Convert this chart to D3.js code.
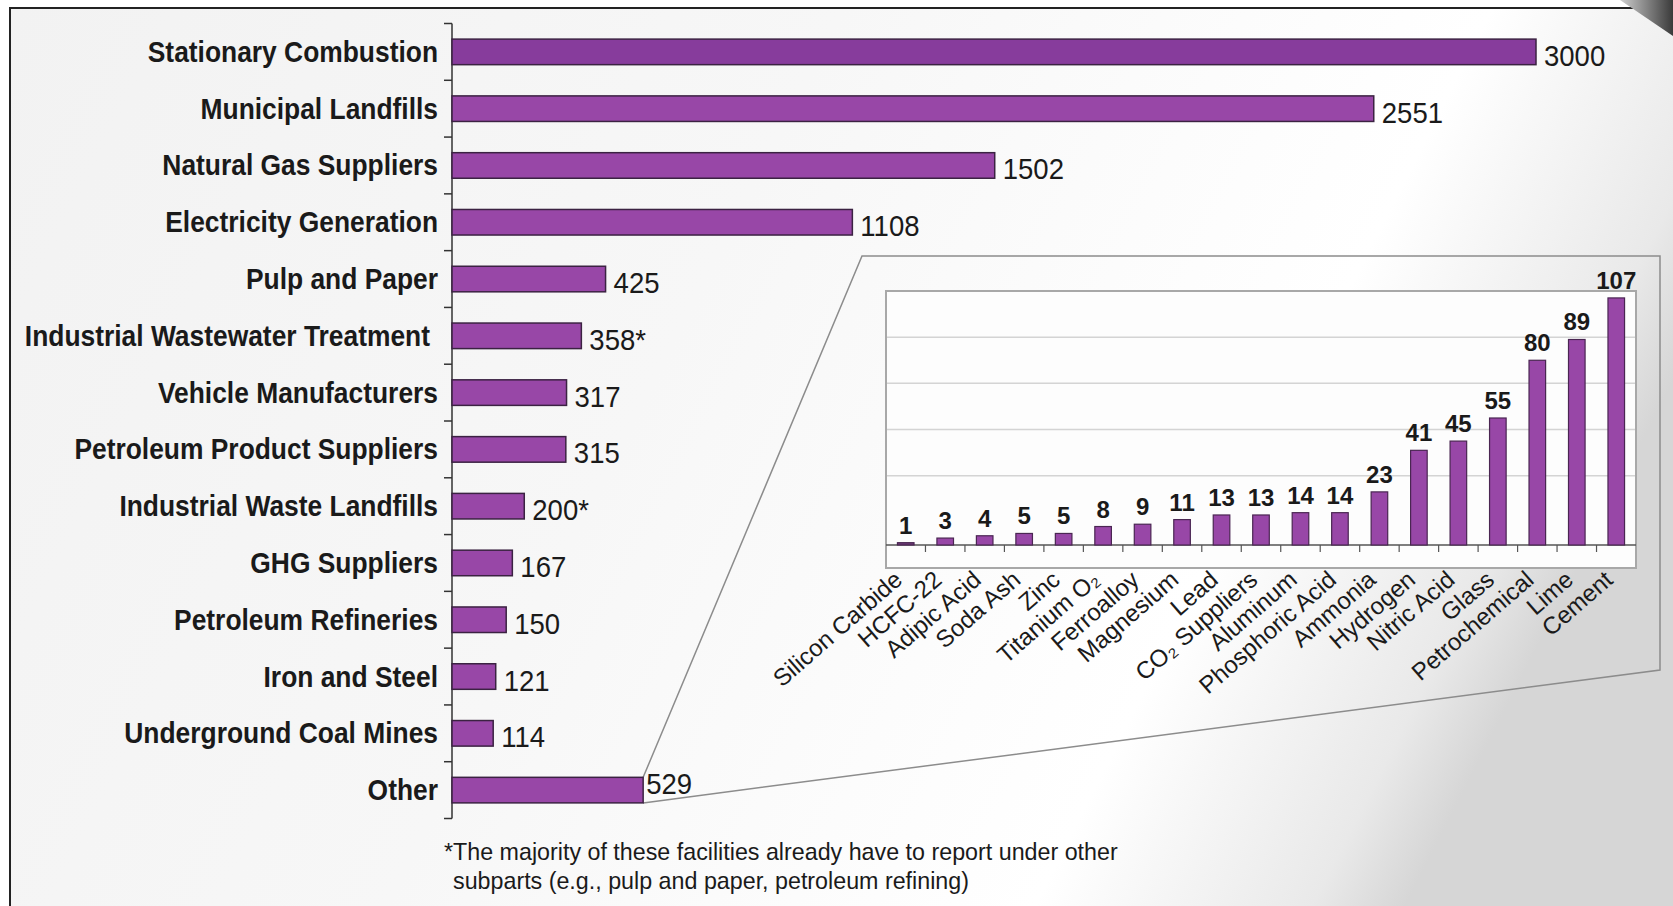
<!DOCTYPE html>
<html>
<head>
<meta charset="utf-8">
<script src="https://cdn.jsdelivr.net/npm/d3@7"></script>
<style>
    body { margin: 0; background: #fff; }
    text { font-family: "Liberation Sans", Arial, sans-serif; fill: #1a1a1a; }
</style>
</head>
<body>
<svg id="chart"></svg>
<script>
// main chart: facilities per source category
let categories = ['Stationary Combustion', 'Municipal Landfills', 'Natural Gas Suppliers', 'Electricity Generation',
    'Pulp and Paper', 'Industrial Wastewater Treatment', 'Vehicle Manufacturers', 'Petroleum Product Suppliers',
    'Industrial Waste Landfills', 'GHG Suppliers', 'Petroleum Refineries', 'Iron and Steel',
    'Underground Coal Mines', 'Other'];
let values = [3000, 2551, 1502, 1108, 425, 358, 317, 315, 200, 167, 150, 121, 114, 529];
let valueNotes = ['', '', '', '', '', '*', '', '', '*', '', '', '', '', ''];

// inset: breakdown of "Other"
let insetCategories = ['Silicon Carbide', 'HCFC-22', 'Adipic Acid', 'Soda Ash', 'Zinc', 'Titanium O\u2082',
    'Ferroalloy', 'Magnesium', 'Lead', 'CO\u2082 Suppliers', 'Aluminum', 'Phosphoric Acid', 'Ammonia',
    'Hydrogen', 'Nitric Acid', 'Glass', 'Petrochemical', 'Lime', 'Cement'];
let insetValues = [1, 3, 4, 5, 5, 8, 9, 11, 13, 13, 14, 14, 23, 41, 45, 55, 80, 89, 107];
let insetGrid = [30, 50, 70, 90];

let footnote = ['*The majority of these facilities already have to report under other',
    'subparts (e.g., pulp and paper, petroleum refining)'];

let width = 1673, height = 906;
let svg = d3.select('#chart').attr('width', width).attr('height', height);

// no narrow font installed, so squeeze the text horizontally
function squeeze(x, y, k) {
    return 'translate(' + x + ',' + y + ') scale(' + (k || 0.9) + ',1)';
}

let defs = svg.append('defs');
let bg = defs.append('linearGradient').attr('id', 'bg').attr('x1', 0).attr('y1', 0).attr('x2', 1).attr('y2', 0.3);
bg.append('stop').attr('offset', 0).attr('stop-color', '#f2f2f2');
bg.append('stop').attr('offset', 0.45).attr('stop-color', '#f7f7f7');
bg.append('stop').attr('offset', 0.8).attr('stop-color', '#ffffff');
bg.append('stop').attr('offset', 0.95).attr('stop-color', '#e9e9e9');
bg.append('stop').attr('offset', 1).attr('stop-color', '#d6d6d6');

let corner = defs.append('linearGradient').attr('id', 'corner').attr('x1', 0).attr('y1', 0).attr('x2', 1).attr('y2', 0);
corner.append('stop').attr('offset', 0).attr('stop-color', '#cfcfcf');
corner.append('stop').attr('offset', 1).attr('stop-color', '#3a3a3a');

// page frame
svg.append('rect')
    .attr('x', 10).attr('y', 8)
    .attr('width', 1700).attr('height', 1000)
    .attr('fill', 'url(#bg)')
    .attr('stroke', '#222')
    .attr('stroke-width', 2);
svg.append('path')
    .attr('d', 'M1620,0L1673,0L1673,36Z')
    .attr('fill', 'url(#corner)');

let xScale = d3.scaleLinear().domain([0, 3000]).range([452, 1536]);
let yScale = d3.scaleBand()
    .domain(categories)
    .range([23.5, 818.5])
    .paddingInner(0.55)
    .paddingOuter(0.275);
let bw = yScale.bandwidth();
let step = yScale.step();

// left axis with ticks between categories
let axis = svg.append('g').attr('stroke', '#333').attr('stroke-width', 1.5);
axis.append('line')
    .attr('x1', xScale(0)).attr('x2', xScale(0))
    .attr('y1', 23.5).attr('y2', 818.5);
axis.selectAll('.tick')
    .data(d3.range(categories.length + 1))
    .enter().append('line')
    .attr('x1', xScale(0) - 8).attr('x2', xScale(0))
    .attr('y1', i => 23.5 + i * step)
    .attr('y2', i => 23.5 + i * step);

// callout from the "Other" bar to the inset
let otherY = yScale('Other');
let callout = [
    [xScale(529), otherY],
    [862, 256],
    [1660, 256],
    [1660, 670],
    [xScale(529), otherY + bw]
];
svg.append('path')
    .attr('d', d3.line()(callout))
    .attr('fill', 'none')
    .attr('stroke', '#8c8c8c')
    .attr('stroke-width', 1.5);

svg.selectAll('.bar')
    .data(categories)
    .enter().append('rect')
    .attr('class', 'bar')
    .attr('x', xScale(0))
    .attr('y', d => yScale(d))
    .attr('width', (d, i) => xScale(values[i]) - xScale(0))
    .attr('height', bw)
    .attr('fill', (d, i) => i === 0 ? '#873c9c' : '#9847a7')
    .attr('stroke', '#3b2242')
    .attr('stroke-width', 1.5);

svg.selectAll('.cat')
    .data(categories)
    .enter().append('text')
    .attr('class', 'cat')
    .attr('transform', d => squeeze(d === 'Industrial Wastewater Treatment' ? 430 : 438, yScale(d) + bw / 2 + 10, 0.91))
    .attr('text-anchor', 'end')
    .style('font-size', '29px')
    .style('font-weight', 'bold')
    .text(d => d);

svg.selectAll('.val')
    .data(categories)
    .enter().append('text')
    .attr('class', 'val')
    .attr('transform', (d, i) => squeeze(xScale(values[i]) + (d === 'Other' ? 3 : 8),
        yScale(d) + bw / 2 + (d === 'Other' ? 4 : 14), 0.95))
    .style('font-size', '29px')
    .text((d, i) => values[i] + valueNotes[i]);

// inset chart
let ix = d3.scaleBand()
    .domain(insetCategories)
    .range([886, 1636])
    .paddingInner(0.58)
    .paddingOuter(0.29);
let iy = d3.scaleLinear().domain([0, 110]).range([545, 291]);
let istep = ix.step();

svg.append('rect')
    .attr('x', 886).attr('y', iy(110))
    .attr('width', 750).attr('height', 568 - iy(110))
    .attr('fill', '#fdfdfd')
    .attr('stroke', '#a8a8a8')
    .attr('stroke-width', 2);

svg.selectAll('.grid')
    .data(insetGrid)
    .enter().append('line')
    .attr('x1', 887).attr('x2', 1635)
    .attr('y1', d => iy(d)).attr('y2', d => iy(d))
    .attr('stroke', '#d4d4d4')
    .attr('stroke-width', 1.5);

svg.append('line')
    .attr('x1', 886).attr('x2', 1636)
    .attr('y1', iy(0)).attr('y2', iy(0))
    .attr('stroke', '#555')
    .attr('stroke-width', 1.5);

svg.selectAll('.itick')
    .data(d3.range(1, insetCategories.length))
    .enter().append('line')
    .attr('x1', i => 886 + i * istep).attr('x2', i => 886 + i * istep)
    .attr('y1', iy(0)).attr('y2', iy(0) + 7)
    .attr('stroke', '#555')
    .attr('stroke-width', 1.2);

svg.selectAll('.ibar')
    .data(insetCategories)
    .enter().append('rect')
    .attr('class', 'ibar')
    .attr('x', d => ix(d))
    .attr('y', (d, i) => iy(insetValues[i]))
    .attr('width', ix.bandwidth())
    .attr('height', (d, i) => iy(0) - iy(insetValues[i]))
    .attr('fill', (d, i) => i === 0 ? '#6e3a78' : '#9847a7')
    .attr('stroke', '#4a2652')
    .attr('stroke-width', 1.2);

svg.selectAll('.ival')
    .data(insetCategories)
    .enter().append('text')
    .attr('class', 'ival')
    .attr('transform', (d, i) => squeeze(ix(d) + ix.bandwidth() / 2, iy(insetValues[i]) - 9, 1))
    .attr('text-anchor', 'middle')
    .style('font-size', '24px')
    .style('font-weight', 'bold')
    .text((d, i) => insetValues[i]);

svg.selectAll('.ilab')
    .data(insetCategories)
    .enter().append('text')
    .attr('class', 'ilab')
    .attr('text-anchor', 'end')
    .attr('transform', d => 'translate(' + (ix(d) + ix.bandwidth() / 2 - 2) + ',' + 582 + ') rotate(-41)')
    .style('font-size', '24px')
    .text(d => d);

svg.selectAll('.foot')
    .data(footnote)
    .enter().append('text')
    .attr('class', 'foot')
    .attr('transform', (d, i) => squeeze(i === 0 ? 444 : 453, 860 + i * 29, 0.97))
    .style('font-size', '24px')
    .text(d => d);
</script>
</body>
</html>
